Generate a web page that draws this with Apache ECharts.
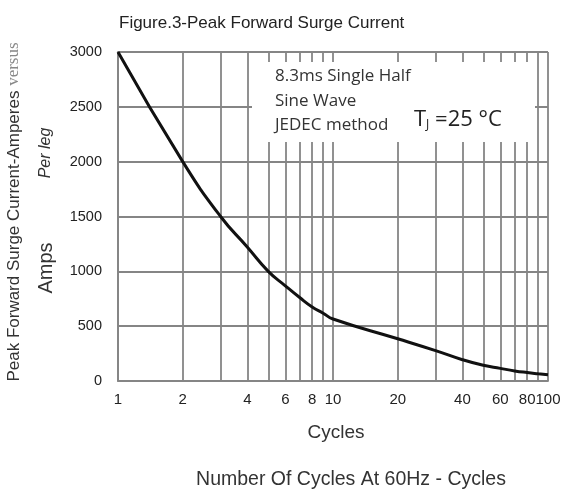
<!DOCTYPE html>
<html>
<head>
<meta charset="utf-8">
<script src="https://cdn.jsdelivr.net/npm/echarts@6/dist/echarts.min.js"></script>
<style>html,body{margin:0;padding:0;background:#fff}#c{width:571px;height:496px}</style>
</head>
<body>
<div id="c"></div>
<script>
// Data
const cycles = [1, 2, 3, 4, 5, 6, 7, 8, 9, 10, 20, 30, 40, 50, 60, 70, 80, 90, 100];
const amps = [3000, 2000, 1500, 1220, 1000, 868, 761, 675, 618, 565, 385, 277, 194, 143, 115, 92, 77, 66, 57];
const xGridValues = [1, 2, 3, 4, 5, 6, 7, 8, 9, 10, 20, 30, 40, 50, 60, 70, 80, 90, 100];
const xLabelValues = [1, 2, 4, 6, 8, 10, 20, 40, 60, 80, 100];
const yMin = 0, yMax = 3000, yStep = 500;

const gridColor = '#858585';
const chart = echarts.init(document.getElementById('c'), null, {renderer: 'canvas'});
chart.setOption({
  animation: false,
  backgroundColor: '#fff',
  title: {
    text: 'Figure.3-Peak Forward Surge Current',
    left: 114, top: 10,
    textStyle: {fontFamily: 'Liberation Sans', fontSize: 17, fontWeight: 'normal', color: '#222'}
  },
  grid: {left: 118, right: 23, top: 52, bottom: 115},
  xAxis: {
    type: 'log', logBase: 10, min: 1, max: 100,
    axisLine: {show: true, lineStyle: {color: gridColor, width: 1.8}},
    axisTick: {show: false, customValues: xGridValues},
    axisLabel: {customValues: xLabelValues, fontFamily: 'Liberation Sans', fontSize: 15, color: '#222', margin: 11},
    splitLine: {show: true, lineStyle: {color: gridColor, width: 1.8}},
    minorSplitLine: {show: false}
  },
  yAxis: {
    type: 'value', min: yMin, max: yMax, interval: yStep,
    axisLine: {show: true, lineStyle: {color: gridColor, width: 1.8}},
    axisTick: {show: false},
    axisLabel: {fontFamily: 'Liberation Sans', fontSize: 14.5, color: '#222', margin: 16, formatter: v => String(v)},
    splitLine: {show: true, lineStyle: {color: gridColor, width: 1.8}}
  },
  series: [{
    type: 'line',
    data: cycles.map((c, i) => [c, amps[i]]),
    smooth: 0.5,
    showSymbol: false,
    lineStyle: {color: '#111', width: 3},
    z: 3
  }],
  graphic: [
    {type: 'rect', z: 50, shape: {x: 252, y: 62, width: 283, height: 80}, style: {fill: '#fff'}},
    {type: 'text', z: 60, left: 275, top: 64,
      style: {text: '8.3ms Single Half\nSine Wave\nJEDEC method', font: '17px "Open Sans"', fill: '#333', lineHeight: 24.5}},
    {type: 'text', z: 60, left: 414, top: 109,
      style: {
        text: '{t|T}{s|J}{e| =25}{c| °C}',
        rich: {
          t: {font: '22px "Open Sans"', fill: '#222'},
          s: {font: '12px "Open Sans"', fill: '#222', verticalAlign: 'bottom', padding: [10, 0, 0, 0]},
          e: {font: '22px "Open Sans"', fill: '#222'},
          c: {font: '22px "Open Sans"', fill: '#222'}
        }
      }},
    {type: 'text', z: 60, x: 14, y: 212, rotation: Math.PI / 2,
      style: {
        text: '{a|Peak Forward Surge Current-Amperes }{b|versus}',
        align: 'center', verticalAlign: 'middle',
        rich: {
          a: {font: '17px "Liberation Sans"', fill: '#333'},
          b: {font: '17px "Liberation Serif"', fill: '#888'}
        }
      }},
    {type: 'text', z: 60, x: 46, y: 153, rotation: Math.PI / 2,
      style: {text: 'Per leg', font: 'italic 16px "Liberation Sans"', fill: '#333', align: 'center', verticalAlign: 'middle'}},
    {type: 'text', z: 60, x: 46, y: 268, rotation: Math.PI / 2,
      style: {text: 'Amps', font: '20px "Liberation Sans"', fill: '#333', align: 'center', verticalAlign: 'middle'}},
    {type: 'text', z: 60, x: 336, y: 433,
      style: {text: 'Cycles', font: '19px "Liberation Sans"', fill: '#333', align: 'center', verticalAlign: 'middle'}},
    {type: 'text', z: 60, x: 351, y: 480,
      style: {text: 'Number Of Cycles At 60Hz - Cycles', font: '19.5px "Liberation Sans"', fill: '#333', align: 'center', verticalAlign: 'middle'}}
  ]
});
</script>
</body>
</html>
